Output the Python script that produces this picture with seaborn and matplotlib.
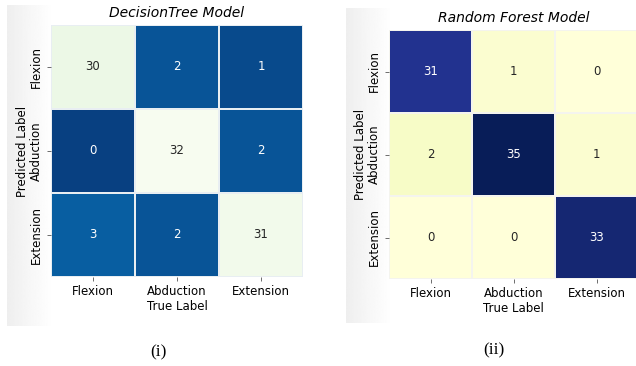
import numpy as np
import pandas as pd
import seaborn as sns
import matplotlib.pyplot as plt

labels = ['Flexion', 'Abduction', 'Extension']

dt_matrix = [[30, 2, 1],
             [0, 32, 2],
             [3, 2, 31]]

rf_matrix = [[31, 1, 0],
             [2, 35, 1],
             [0, 0, 33]]

captions = ['(i)', '(ii)']
titles = ['DecisionTree Model', 'Random Forest Model']

plt.rcParams['font.family'] = ['DejaVu Sans']

fig = plt.figure(figsize=(6.36, 3.66), dpi=100)

# light grey gradient strips left of each panel (screenshot look)
grad = np.linspace(0.935, 1.0, 64).reshape(1, -1)
for x0, y0, x1, y1 in [(7, 5, 53, 326), (346, 8, 392, 323)]:
    gax = fig.add_axes([x0 / 636, 1 - y1 / 366, (x1 - x0) / 636, (y1 - y0) / 366], zorder=0)
    gax.imshow(grad, cmap='gray', vmin=0, vmax=1, aspect='auto')
    gax.axis('off')

ax1 = fig.add_axes([51 / 636, 1 - 277 / 366, 252 / 636, 252 / 366], zorder=1)
sns.heatmap(pd.DataFrame(dt_matrix, index=labels, columns=labels), annot=True, fmt='d',
            cmap='GnBu_r', cbar=False, linewidths=0.2, linecolor='#e8eef2', ax=ax1,
            annot_kws={'fontsize': 8.5})

ax2 = fig.add_axes([389 / 636, 1 - 279 / 366, 249 / 636, 249 / 366], zorder=1)
sns.heatmap(pd.DataFrame(rf_matrix, index=labels, columns=labels), annot=True, fmt='d',
            cmap='YlGnBu', cbar=False, linewidths=0.2, linecolor='#f4f4ee', ax=ax2,
            annot_kws={'fontsize': 8.5})

for ax, title in zip([ax1, ax2], titles):
    ax.set_title(title, fontsize=10, style='italic', pad=5.5)
    ax.set_xlabel('True Label', fontsize=8.5, labelpad=1.5)
    ax.set_ylabel('Predicted Label', fontsize=8.5, labelpad=1)
    ax.tick_params(axis='both', labelsize=8.5, length=3, width=0.6, color='#555555', pad=2.5)
    ax.set_yticklabels(labels, rotation=90, va='center')
    ax.set_xticklabels(labels, rotation=0)

fig.text(158 / 636, 1 - 352 / 366, captions[0], ha='center', va='center',
         fontsize=12.5, family='Liberation Serif')
fig.text(494 / 636, 1 - 350 / 366, captions[1], ha='center', va='center',
         fontsize=12.5, family='Liberation Serif')

plt.savefig('out.png', dpi=100)
